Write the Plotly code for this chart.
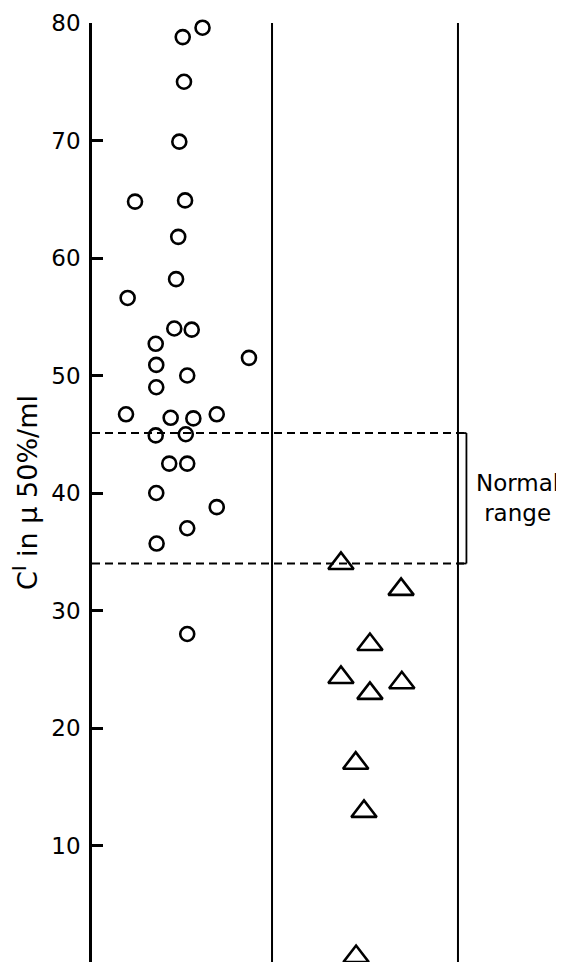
import plotly.graph_objects as go

# Group 1 (circles): column offset within first column and C' value
circle_x = [0.614, 0.504, 0.511, 0.485, 0.239, 0.517, 0.479, 0.467, 0.198,
            0.457, 0.554, 0.354, 0.872, 0.357, 0.529, 0.357, 0.189, 0.437,
            0.563, 0.693, 0.354, 0.521, 0.429, 0.529, 0.357, 0.693, 0.529,
            0.359, 0.529]
circle_y = [79.6, 78.8, 75.0, 69.9, 64.8, 64.9, 61.8, 58.2, 56.6,
            54.0, 53.9, 52.7, 51.5, 50.9, 50.0, 49.0, 46.7, 46.4,
            46.35, 46.7, 44.9, 45.0, 42.5, 42.5, 40.0, 38.8, 37.0,
            35.7, 28.0]

# Group 2 (triangles)
tri_x = [1.383, 1.717, 1.544, 1.383, 1.721, 1.544, 1.465, 1.511, 1.467]
tri_y = [34.0, 31.8, 27.1, 24.3, 23.85, 22.95, 17.0, 12.9, 0.55]

# Normal range
normal_low = 34.0
normal_high = 45.1

y_ticks = [10, 20, 30, 40, 50, 60, 70, 80]
dividers = [1.0, 2.033]

FONT = "DejaVu Sans"

fig = go.Figure()
fig.add_trace(go.Scatter(
    x=circle_x, y=circle_y, mode="markers",
    marker=dict(symbol="circle-open", size=14, color="black", line=dict(width=2.6, color="black")),
    cliponaxis=False, showlegend=False, hoverinfo="skip"))
fig.add_trace(go.Scatter(
    x=tri_x, y=tri_y, mode="markers",
    marker=dict(symbol="triangle-up-open", size=22, color="black", line=dict(width=2.6, color="black")),
    cliponaxis=True, showlegend=False, hoverinfo="skip"))

for d in dividers:
    fig.add_shape(type="line", x0=d, x1=d, y0=0, y1=80, xref="x", yref="y",
                  line=dict(color="black", width=2))

for v in (normal_low, normal_high):
    fig.add_shape(type="line", x0=0, x1=2.07, y0=v, y1=v, xref="x", yref="y",
                  line=dict(color="black", width=2, dash="8px,5px"))

fig.add_shape(type="line", x0=2.08, x1=2.08, y0=normal_low, y1=normal_high, xref="x", yref="y",
              line=dict(color="black", width=1.8))
fig.add_shape(type="line", x0=2.03, x1=2.08, y0=normal_high, y1=normal_high, xref="x", yref="y",
              line=dict(color="black", width=1.8))
fig.add_shape(type="line", x0=2.03, x1=2.08, y0=normal_low, y1=normal_low, xref="x", yref="y",
              line=dict(color="black", width=1.8))

fig.add_annotation(x=2.361, y=(normal_low + normal_high) / 2, xref="x", yref="y",
                   text="Normal<br>range", showarrow=False,
                   font=dict(family=FONT, size=23, color="black"), align="center")

fig.update_xaxes(visible=False, range=[0, 2.622], fixedrange=True)
fig.update_yaxes(range=[0.085, 80], tickvals=y_ticks, ticktext=[str(t) for t in y_ticks],
                 ticks="inside", ticklen=11, tickwidth=2.5, tickcolor="black",
                 showline=True, linecolor="black", linewidth=2.5,
                 showgrid=False, zeroline=False, automargin=False,
                 ticklabelstandoff=4,
                 tickfont=dict(family=FONT, size=23, color="black"),
                 title=dict(text="C<sup>I</sup> in μ 50%/ml", standoff=16,
                            font=dict(family=FONT, size=27, color="black")))

# page body has an 8px default margin; compensate so plot lands where the reference has it
fig.update_layout(width=556, height=954,
                  margin=dict(l=84, r=0, t=15, b=0),
                  plot_bgcolor="white", paper_bgcolor="white")

fig.write_html("out.html")
